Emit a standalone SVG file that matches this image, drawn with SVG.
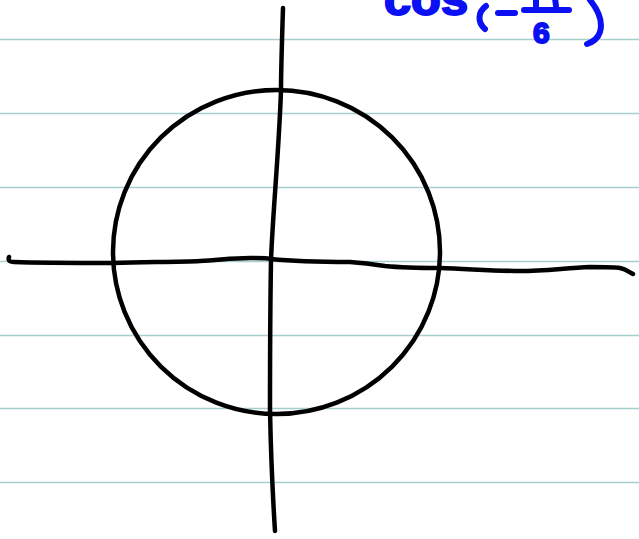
<svg xmlns="http://www.w3.org/2000/svg" width="639" height="539" viewBox="0 0 639 539">
<style>
.rule{stroke:#a9cfcd;stroke-width:1.3;fill:none}
.ink{stroke:#000;stroke-width:4.5;fill:none;stroke-linecap:round;stroke-linejoin:round}
.blue{fill:#0a10f2;stroke:#0a10f2;stroke-width:2;font-family:"Liberation Sans",Arial,sans-serif;font-weight:bold}
.bluestroke{stroke:#0a10f2;stroke-width:6;stroke-linecap:round;fill:none}
</style>
<rect width="639" height="539" fill="#fff"/>
<g id="rules">
<line class="rule" x1="0" y1="39.5" x2="639" y2="39.5"/>
<line class="rule" x1="0" y1="113.5" x2="639" y2="113.5"/>
<line class="rule" x1="0" y1="187.5" x2="639" y2="187.5"/>
<line class="rule" x1="0" y1="261.5" x2="639" y2="261.5"/>
<line class="rule" x1="0" y1="335.5" x2="639" y2="335.5"/>
<line class="rule" x1="0" y1="408.5" x2="639" y2="408.5"/>
<line class="rule" x1="0" y1="482.5" x2="639" y2="482.5"/>
</g>
<g id="circle">
<ellipse class="ink" cx="276.5" cy="252" rx="163.5" ry="162"/>
</g>
<g id="axes">
<path class="ink" d="M283,8 C282,40 281,70 281,90 C279,150 273,210 271,260 C270,320 270,380 270,410 C271,460 273,500 275,531"/>
<path class="ink" d="M9,257 C8,260 9,262 14,262 C40,263 80,263 113,263 C150,262 180,262 200,261 C220,260 232,258 250,258 C262,258 268,258 271,259 C290,261 320,262 350,262 C365,263 372,264 385,266 C405,268 425,268 440,268 C470,269 495,271 520,271 C545,271 565,268 590,267 C605,267 615,267 620,268 C626,269 629,272 633,274"/>
</g>
<g id="label">
<text class="blue" x="384" y="15" font-size="46" textLength="84" lengthAdjust="spacingAndGlyphs">cos</text>
<path class="bluestroke" d="M486,6 C478,12 477,22 485,29"/>
<line class="bluestroke" x1="498" y1="13" x2="515" y2="13"/>
<line class="bluestroke" x1="524" y1="10" x2="569" y2="10"/>
<path class="bluestroke" d="M536,-2 L536,6 M555,-2 L556,6"/>
<text class="blue" x="533" y="43" font-size="30">6</text>
<path class="bluestroke" d="M590,0 C598,10 603,22 600,32 C598,38 593,42 587,44"/>
</g>
</svg>
